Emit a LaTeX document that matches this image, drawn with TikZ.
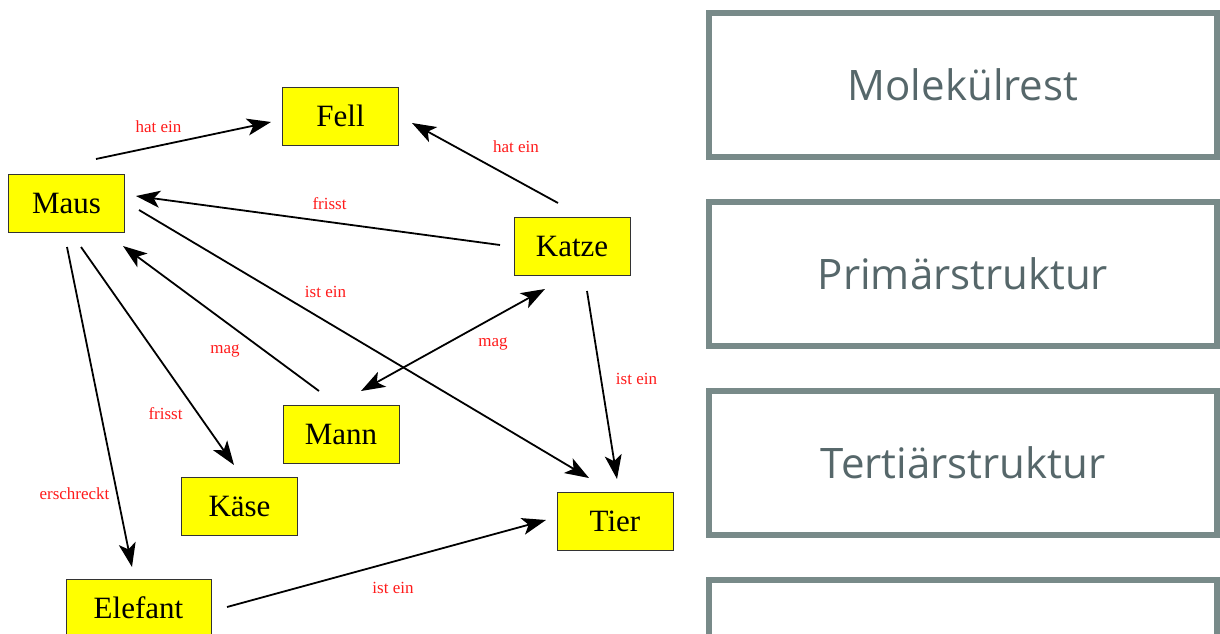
\documentclass[tikz,border=0pt]{standalone}
\usepackage{fontspec}
\setmainfont{Liberation Serif}
\newfontfamily\osans{Open Sans}
\usetikzlibrary{arrows.meta,calc}
\definecolor{boxgray}{HTML}{788A89}
\definecolor{txtgray}{HTML}{56676A}
\definecolor{lblred}{HTML}{FF1A1A}
\definecolor{conceptyellow}{HTML}{FFFF00}
\begin{document}
\begin{tikzpicture}[x=1pt,y=-1pt,
 concept/.style={draw=black!80,line width=1pt,fill=conceptyellow,minimum width=116pt,minimum height=58pt,inner sep=0pt,font=\fontsize{31}{31}\selectfont},
 tip/.tip={Stealth[length=24pt,width=17pt,inset=6pt]},
 rel/.style={line width=1.8pt,-tip},
 birel/.style={line width=1.8pt,tip-tip},
 lbl/.style={text=lblred,font=\fontsize{17}{17}\selectfont,inner sep=0pt},
 panel/.style={draw=boxgray,line width=6pt,minimum width=508pt,minimum height=144pt,inner sep=0pt,text=txtgray,font=\osans\fontsize{42}{42}\selectfont}]
\useasboundingbox (0,0) rectangle (1220,634);
% concept nodes
\node[concept] (fell) at (340.5,116) {Fell};
\node[concept] (maus) at (66.5,203) {Maus};
\node[concept] (katze) at (572,246) {Katze};
\node[concept] (mann) at (341,434) {Mann};
\node[concept] (kaese) at (239.5,506) {Käse};
\node[concept] (tier) at (615,521) {Tier};
\node[concept,minimum width=145pt] (elefant) at (138.5,608) {Elefant};
% connectors
\draw[rel] ($(maus)+(29.5,-44)$) -- ($(fell)+(-69.5,6)$);
\draw[rel] ($(katze)+(-14,-43)$) -- ($(fell)+(71.5,7)$);
\draw[rel] ($(katze)+(-72,-1)$) -- ($(maus)+(69.5,-7)$);
\draw[rel] ($(maus)+(72.5,7)$) -- ($(tier)+(-26,-43)$);
\draw[rel] ($(katze)+(15,45)$) -- ($(tier)+(2,-42)$);
\draw[rel] ($(mann)+(-22,-43)$) -- ($(maus)+(56.5,43)$);
\draw[birel] ($(mann)+(20,-43)$) -- ($(katze)+(-27,43)$);
\draw[rel] ($(maus)+(14.5,44)$) -- ($(kaese)+(-5.5,-41)$);
\draw[rel] ($(maus)+(0.5,44)$) -- ($(elefant)+(-6.5,-41)$);
\draw[rel] ($(elefant)+(88.5,-1)$) -- ($(tier)+(-69,-1)$);
% labels
\node[lbl] (l1) at (158.5,127) {hat ein};
\node[lbl] (l2) at (516,147) {hat ein};
\node[lbl] (l3) at (329.5,204) {frisst};
\node[lbl] (l4) at (325.5,292) {ist ein};
\node[lbl] (l5) at (225,351) {mag};
\node[lbl] (l6) at (493,344) {mag};
\node[lbl] (l7) at (636.5,379) {ist ein};
\node[lbl] (l8) at (165.5,414) {frisst};
\node[lbl] (l9) at (74.5,494) {erschreckt};
\node[lbl] (l10) at (393,588) {ist ein};
% right panels
\node[panel] (p1) at (963,85) {Molekülrest};
\node[panel] (p2) at (963,274) {Primärstruktur};
\node[panel] (p3) at (963,463) {Tertiärstruktur};
\node[panel] (p4) at (963,652) {};
\end{tikzpicture}
\end{document}
